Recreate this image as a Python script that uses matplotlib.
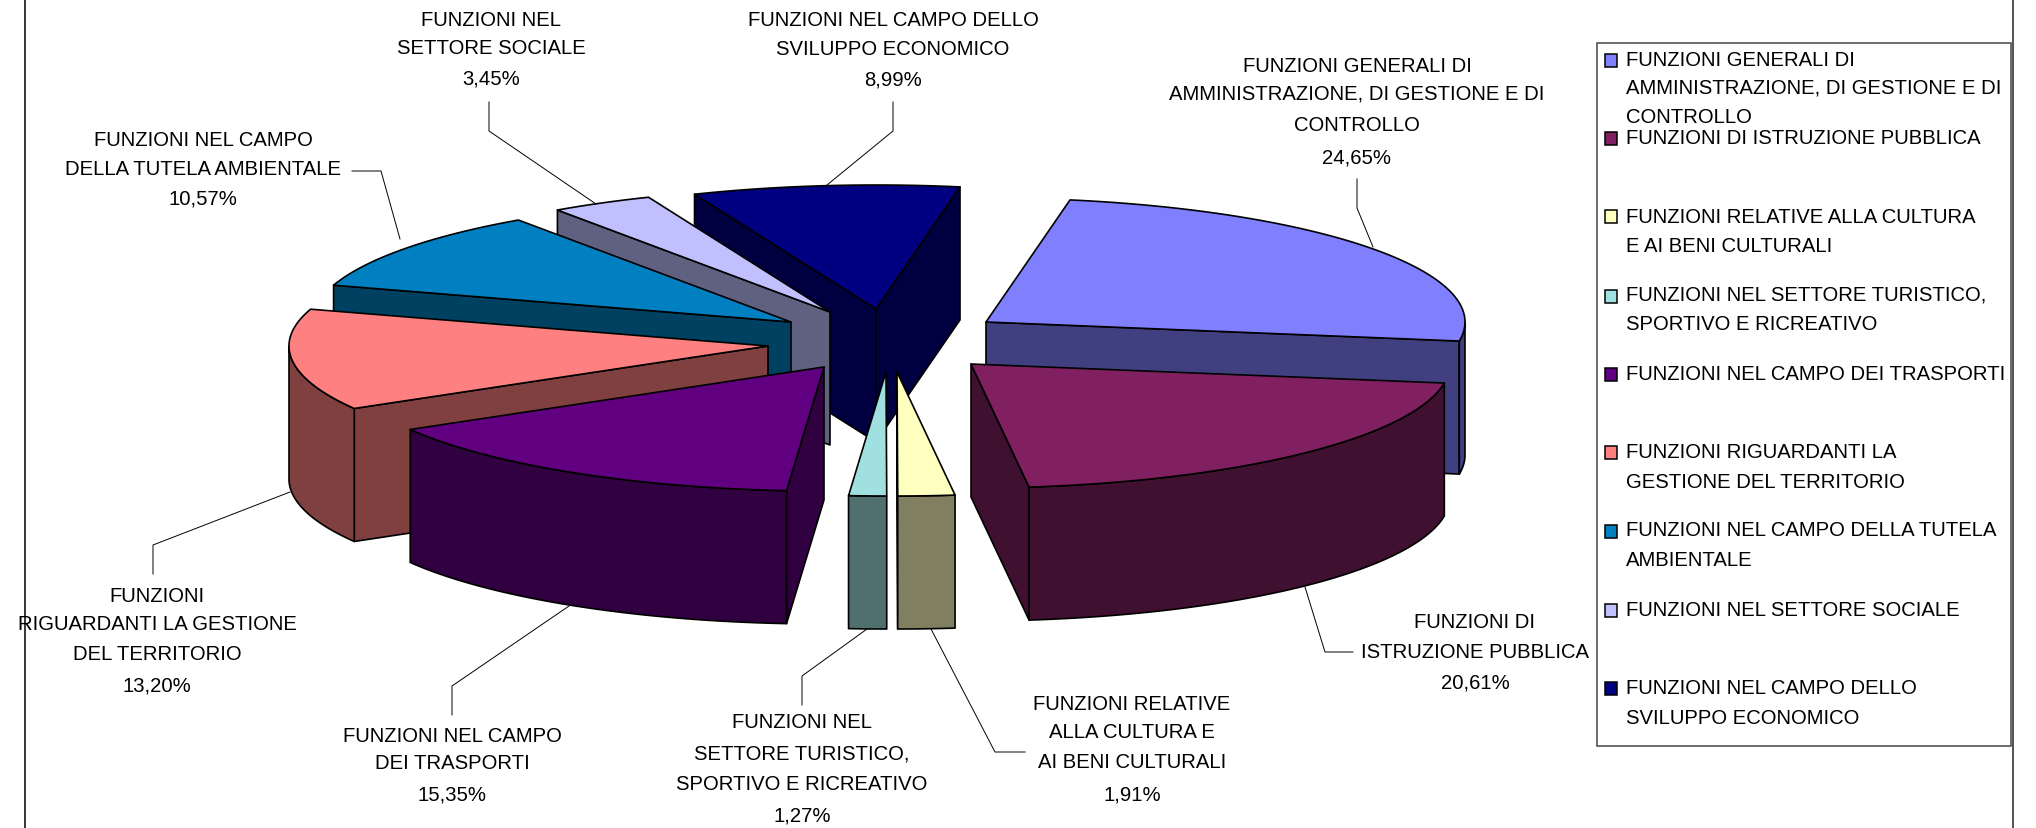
#!/usr/bin/env python3
# -*- coding: utf-8 -*-
import numpy as np
import matplotlib
matplotlib.use('Agg')
import matplotlib.pyplot as plt
from matplotlib.patches import Polygon, Rectangle
from matplotlib.transforms import Bbox

plt.rcParams['font.family'] = ['Liberation Sans', 'DejaVu Sans']

# percentages, clockwise from the first slice
values = [24.65, 20.61, 1.91, 1.27, 15.35, 13.20, 10.57, 3.45, 8.99]

legend_names = [
    ['FUNZIONI GENERALI DI', 'AMMINISTRAZIONE, DI GESTIONE E DI', 'CONTROLLO'],
    ['FUNZIONI DI ISTRUZIONE PUBBLICA'],
    ['FUNZIONI RELATIVE ALLA CULTURA', 'E AI BENI CULTURALI'],
    ['FUNZIONI NEL SETTORE TURISTICO,', 'SPORTIVO E RICREATIVO'],
    ['FUNZIONI NEL CAMPO DEI TRASPORTI'],
    ['FUNZIONI RIGUARDANTI LA', 'GESTIONE DEL TERRITORIO'],
    ['FUNZIONI NEL CAMPO DELLA TUTELA', 'AMBIENTALE'],
    ['FUNZIONI NEL SETTORE SOCIALE'],
    ['FUNZIONI NEL CAMPO DELLO', 'SVILUPPO ECONOMICO'],
]

label_names = [
    ['FUNZIONI GENERALI DI', 'AMMINISTRAZIONE, DI GESTIONE E DI', 'CONTROLLO'],
    ['FUNZIONI DI', 'ISTRUZIONE PUBBLICA'],
    ['FUNZIONI RELATIVE', 'ALLA CULTURA E', 'AI BENI CULTURALI'],
    ['FUNZIONI NEL', 'SETTORE TURISTICO,', 'SPORTIVO E RICREATIVO'],
    ['FUNZIONI NEL CAMPO', 'DEI TRASPORTI'],
    ['FUNZIONI', 'RIGUARDANTI LA GESTIONE', 'DEL TERRITORIO'],
    ['FUNZIONI NEL CAMPO', 'DELLA TUTELA AMBIENTALE'],
    ['FUNZIONI NEL', 'SETTORE SOCIALE'],
    ['FUNZIONI NEL CAMPO DELLO', 'SVILUPPO ECONOMICO'],
]

top_colors = ['#8080FF', '#802060', '#FFFFC0', '#A0E0E0', '#600080',
              '#FF8080', '#0080C0', '#C0C0FF', '#000080']
wall_colors = ['#404080', '#401030', '#808060', '#507070', '#300040',
               '#804040', '#004060', '#606080', '#000040']

# pie geometry in pixels
CX, CY = 876, 345
RX, RY = 479, 124
DEPTH = 133
START = 79.9
explode_x = [110, 95, 21, 10, -52, -108, -85, -46, 0]
explode_y = [-22, 20, 28, 28, 23, 2, -22, -32, -35]
draw_order = [0, 1, 8, 7, 6, 5, 4, 3, 2]

# text line centres and leader lines in pixels
label_x = [1357, 1475, 1132, 802, 452, 157, 203, 491, 893]
label_y = [[65, 93, 124, 157], [621, 651, 682], [703, 732, 762, 794],
           [722, 753, 784, 815], [735, 763, 794], [595, 623, 654, 685],
           [139, 168, 198], [19, 47, 78], [19, 48, 79]]
leaders = [
    [(1357, 180), (1357, 209), (1373, 248)],
    [(1305, 588), (1325, 653), (1353, 653)],
    [(931, 630), (995, 753), (1025, 753)],
    [(867, 630), (802, 677), (802, 706)],
    [(452, 716), (452, 687), (569, 607)],
    [(153, 575), (153, 546), (290, 493)],
    [(352, 172), (381, 172), (400, 240)],
    [(489, 103), (489, 132), (596, 205)],
    [(893, 103), (893, 132), (827, 186)],
]

legend_swatch_y = [61, 139, 217, 297, 375, 453, 532, 611, 689]
legend_text_y = [[59, 87, 116], [137], [216, 245], [294, 323], [373],
                 [452, 481], [530, 559], [609], [688, 717]]

FONT = 14.6
LW = 1.2


def ring(cx, cy, a):
    a = np.radians(a)
    return np.column_stack([cx + RX * np.cos(a), cy - RY * np.sin(a)])


def draw_slice(ax, cx, cy, start, end, top, wall):
    apex = np.array([[cx, cy]])
    down = np.array([0, DEPTH])
    kw = dict(edgecolor='black', linewidth=LW, joinstyle='round')

    # flat faces that look towards the viewer
    if np.cos(np.radians(start)) < 0:
        edge = ring(cx, cy, np.array([start]))
        pts = np.vstack([apex, edge, edge + down, apex + down])
        ax.add_patch(Polygon(pts, facecolor=wall, **kw))
    if np.cos(np.radians(end)) > 0:
        edge = ring(cx, cy, np.array([end]))
        pts = np.vstack([apex, edge, edge + down, apex + down])
        ax.add_patch(Polygon(pts, facecolor=wall, **kw))

    # front part of the rim
    hi, lo = min(start, 0), max(end, -180)
    if hi > lo:
        arc = ring(cx, cy, np.linspace(hi, lo, 80))
        pts = np.vstack([arc, arc[::-1] + down])
        ax.add_patch(Polygon(pts, facecolor=wall, **kw))

    arc = ring(cx, cy, np.linspace(start, end, 120))
    ax.add_patch(Polygon(np.vstack([apex, arc]), facecolor=top, **kw))


def main():
    fig = plt.figure(figsize=(20.36, 8.29), dpi=100)
    ax = fig.add_axes([0, 0, 1, 1])
    ax.set_xlim(0, 2036)
    ax.set_ylim(829, 0)
    ax.axis('off')

    # chart frame, only the two sides are left in the picture
    ax.plot([25.5, 25.5], [0, 829], color='black', lw=1.1)
    ax.plot([2012.7, 2012.7], [0, 829], color='#444444', lw=1.3)

    for pts in leaders:
        xs, ys = zip(*pts)
        ax.plot(xs, ys, color='black', lw=0.7)

    angles = START - np.cumsum([0] + values) * 3.6
    for i in draw_order:
        draw_slice(ax, CX + explode_x[i], CY + explode_y[i],
                   angles[i], angles[i + 1], top_colors[i], wall_colors[i])

    # slice labels
    clip = Bbox([[15, 0], [2036, 829]])
    for i, lines in enumerate(label_names):
        pct = f'{values[i]:.2f}'.replace('.', ',') + '%'
        for line, y in zip(lines + [pct], label_y[i]):
            t = ax.text(label_x[i], y + 6.5, line, ha='center', va='baseline',
                        fontsize=FONT, color='black')
            t.set_clip_on(True)
            t.set_clip_box(clip)

    # legend
    ax.add_patch(Rectangle((1597, 44), 414, 703, facecolor='white',
                           edgecolor='#444444', linewidth=1.1, zorder=3))
    for i, lines in enumerate(legend_names):
        ax.add_patch(Rectangle((1605, legend_swatch_y[i] - 6.5), 12.5, 13,
                               facecolor=top_colors[i], edgecolor='black',
                               linewidth=1.1, zorder=4))
        for line, y in zip(lines, legend_text_y[i]):
            ax.text(1626, y + 6.5, line, ha='left', va='baseline',
                    fontsize=FONT, color='black', zorder=4)

    fig.savefig('out.png', dpi=100, facecolor='white')


if __name__ == "__main__":
    main()
